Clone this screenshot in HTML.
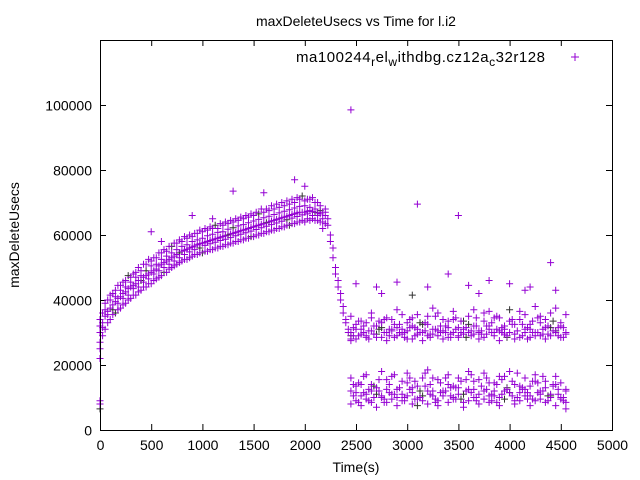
<!DOCTYPE html>
<html><head><meta charset="utf-8"><style>
html,body{margin:0;padding:0;background:#fff;}
svg{display:block;font-family:"Liberation Sans",sans-serif;}
</style></head><body>
<svg id="chart" width="640" height="480" viewBox="0 0 640 480" xmlns="http://www.w3.org/2000/svg">
<rect width="640" height="480" fill="#fff"/>
<text x="356" y="26" font-size="14" text-anchor="middle">maxDeleteUsecs vs Time for l.i2</text>
<text transform="translate(19,235) rotate(-90)" font-size="14" text-anchor="middle">maxDeleteUsecs</text>
<text x="356" y="472" font-size="14" text-anchor="middle">Time(s)</text>
<g id="axes"></g>
<g id="points"></g>
<g>
<text x="296" y="62" font-size="15" textLength="249" lengthAdjust="spacing">ma100244<tspan font-size="12" dy="4">r</tspan><tspan dy="-4">el</tspan><tspan font-size="12" dy="4">w</tspan><tspan dy="-4">ithdbg.cz12a</tspan><tspan font-size="12" dy="4">c</tspan><tspan dy="-4">32r128</tspan></text>
<path d="M571,57h8M575,53v8" stroke="#9400d3" stroke-width="1"/>
</g>
<rect x="100.5" y="40.5" width="512" height="390" fill="none" stroke="#000" stroke-width="1"/>
</svg>
<script>
const xTicks=[0,500,1000,1500,2000,2500,3000,3500,4000,4500,5000];
const yTicks=[0,20000,40000,60000,80000,100000];
const rampTimes=[0,50,100,150,200,250,300,350,400,450,500,550,600,650,700,750,800,850,900,950,1000,1050,1100,1150,1200,1250,1300,1350,1400,1450,1500,1550,1600,1650,1700,1750,1800,1850,1900,1950,2000,2050,2100,2150,2200];
const rampMid=[30000,35000,37500,39500,41000,42500,44000,45000,46000,47500,48500,49500,51000,52000,53000,54000,55000,55600,56300,57000,57500,58000,58500,59000,59500,60000,60500,61000,61500,62000,62500,63000,63500,64000,64500,65000,65500,66000,66500,67000,67000,67500,67000,66500,66000];
const rampHi=[34000,39000,41500,43000,44500,46000,47000,48500,49000,51000,52000,53000,54500,55000,56500,57500,58000,59000,59500,60500,61000,61500,62000,62000,63000,63500,64000,64500,65000,65500,66000,66500,67000,67500,68000,68500,69000,69500,70000,71000,70500,71000,70000,69000,68000];
const rampLo=[27000,31000,34000,36000,37500,39000,40500,41500,43000,44000,45000,46500,47500,48500,50000,51000,52000,52500,53500,54000,54500,55000,55500,56000,56500,57000,57500,58000,58500,59000,59500,60000,60500,61000,61500,62000,62500,63000,63500,64000,64000,64500,64500,64000,63500];
const rampExtra=[32000,37000,40000,41000,43000,44000,45500,47000,47500,49000,50500,51000,52500,53500,54500,55500,56500,57000,58000,58500,59000,59800,60200,60800,61000,61800,62200,62800,63200,63800,64300,64800,65300,65800,66300,66800,67300,67800,68300,68800,69000,68500,68000,67500,67000];
const rampTimes2=[25,75,125,175,225,275,325,375,425,475,525,575,625,675,725,775,825,875,925,975,1025,1075,1125,1175,1225,1275,1325,1375,1425,1475,1525,1575,1625,1675,1725,1775,1825,1875,1925,1975,2025,2075,2125,2175];
const rampB1=[33000,36500,38500,40500,42000,43500,44500,46000,47000,48000,49000,50500,51500,52500,53500,54500,55300,56000,56600,57300,57800,58300,58800,59300,59800,60300,60800,61300,61800,62300,62800,63300,63800,64300,64800,65300,65800,66300,66800,67000,67300,67200,66800,65000];
const rampB2=[36000,40000,42000,44500,45500,47500,48000,50000,51000,52500,53000,54500,55500,56500,57500,58500,59500,60000,60500,61500,62000,62500,63000,63500,64000,64500,65000,65500,66000,66500,67000,68000,68000,69000,69500,70000,70500,71000,71500,72000,71000,71500,70000,67000];
const rampB3=[29000,33000,35500,37000,38500,40000,41500,42500,44000,45000,46000,47000,48500,49500,50500,51500,52500,53000,54000,54500,55000,55500,56000,56500,57000,57500,58000,58500,59000,59500,60000,60500,61000,61500,62000,62500,63000,63500,64000,64500,65000,65000,64500,62000];
const rampB4=[31500,35500,37000,39000,40500,41500,43500,44000,45500,46500,48000,49000,50000,51000,52000,53000,54000,54800,55500,56000,56800,57300,57800,58300,58700,59200,59800,60200,60700,61200,61700,62200,62700,63200,63700,64200,64700,65200,65700,66200,66500,66000,66000,64000];
const dropTimes=[2225,2250,2275,2300,2325,2350,2375,2400,2425,2450];
const dropA=[63000,60000,56000,50000,46000,42000,38000,34000,31000,29000];
const dropB=[65000,58000,53000,48000,44000,40000,36000,33000,30000,28000];
const bandTimes=[2450,2500,2550,2600,2650,2700,2750,2800,2850,2900,2950,3000,3050,3100,3150,3200,3250,3300,3350,3400,3450,3500,3550,3600,3650,3700,3750,3800,3850,3900,3950,4000,4050,4100,4150,4200,4250,4300,4350,4400,4450,4500,4550];
const up1=[30000,31000,29500,33000,30500,28500,31500,30000,34000,29000,31000,30500,32000,29500,30000,35000,31000,29000,30500,33500,30000,28500,31000,32500,29500,30000,36000,31000,29000,30500,32000,30000,29500,34000,31000,28500,30000,33000,31500,29000,30500,32000,30000];
const up2=[35000,28000,33500,29000,36000,32000,28500,34500,31000,37000,29500,33000,28000,35500,32500,29000,37500,30500,34000,28500,36500,31500,29500,35000,32000,28000,33500,36500,30000,34500,29500,37000,32500,28500,35500,31000,38000,29000,34000,36000,30000,33000,35500];
const up3=[27500,32500,31000,28500,34500,29500,33000,27500,30500,31500,35500,28000,34500,31000,27500,32500,29500,36000,28000,31500,34000,29000,33500,30000,37000,30500,28500,32000,34500,27500,31000,33500,28000,36500,30000,32500,29000,35000,28000,31500,37500,28500,29500];
const lo1=[12000,9000,14000,11000,8500,13000,10000,15500,9500,12500,11000,14500,8000,13500,10500,12000,16000,9000,11500,14000,10000,13000,8500,12500,15000,11000,9500,14500,12000,10000,16500,11500,9000,13500,12500,10500,15000,9500,13000,11000,14000,10000,12500];
const lo2=[16000,13500,10500,17000,14000,11000,18000,12500,16500,10000,15000,17500,13000,9500,16000,18500,12000,15500,10500,17000,13500,16000,11000,18000,12500,15500,17500,10500,14500,16500,12000,18000,14000,11500,16000,13500,17000,12000,15000,10500,16500,14500,12000];
const lo3=[8000,11500,7500,9500,12000,7000,10500,8500,11000,7500,9000,10500,11500,7500,9000,8000,10500,7500,12000,8500,9500,11000,7000,9000,10000,8000,12000,8500,10500,7500,9500,11500,8000,9000,10500,7500,9000,11000,8500,10000,7500,9500,8500];
const bandTimes2=[2475,2525,2575,2625,2675,2725,2775,2825,2875,2925,2975,3025,3075,3125,3175,3225,3275,3325,3375,3425,3475,3525,3575,3625,3675,3725,3775,3825,3875,3925,3975,4025,4075,4125,4175,4225,4275,4325,4375,4425,4475,4525];
const up4=[31500,29000,32000,30500,29500,33500,30000,31000,28500,32500,30000,31500,29000,33000,30500,29500,31000,32000,30000,28500,34500,30000,31500,29000,32000,30500,29500,33000,31000,30000,28500,32500,30500,29000,31500,33500,30000,29500,32000,30500,29000,31500];
const up5=[29000,33500,30000,28000,32000,31000,34000,29000,32500,30000,28500,34000,31500,30000,33000,28500,35000,30000,32000,29500,31000,33500,28500,30500,34500,29500,32000,30000,35000,31500,29000,34000,30500,32500,28000,30000,34500,31000,29500,33500,31500,28500];
const lo4=[10500,14500,11500,9000,13500,12000,9500,14000,11000,13000,9000,12500,15000,10000,13500,11000,9500,14500,12000,10500,13000,9500,15500,11500,10000,13500,12500,9000,14000,11000,12500,15000,10000,13000,11500,9500,14500,12000,10500,13500,11000,9000];
const lo5=[14000,8500,16500,12500,10000,15500,8500,11500,17000,13000,10000,16000,9500,12000,17500,14000,8500,11500,16000,13000,9500,15000,12000,17000,9000,13500,16000,11000,8500,15500,13000,10500,17500,12500,9500,15000,11500,16500,9000,14000,12500,10000];
const outlierTimes=[2450,3100,3500,4400,0,0,0,4550,2500,2700,2900,3200,3400,3600,3800,4000,4200,1900,1300,1600,2000,2750,3050,4450,4150,3700,0,0,900,1100,600,500];
const outlierValues=[98500,69500,66000,51500,8000,6500,9000,6500,45000,44000,45500,44000,48000,44500,46000,45000,44000,77000,73500,73000,75000,42000,41500,43000,43000,42000,22000,25000,66000,65000,58000,61000];

const X0=100,X1=612,Y0=430,Y1=40,XMAX=5000,YMAX=120000;
function xs(t){return X0+t/XMAX*(X1-X0);}
function ys(v){return Y0-v/YMAX*(Y0-Y1);}
const NS="http://www.w3.org/2000/svg";
const axes=document.getElementById('axes');
xTicks.forEach(t=>{
  const x=xs(t)+0.5;
  const p=document.createElementNS(NS,'path');
  p.setAttribute('d',`M${x},430v-6M${x},40v6`);
  p.setAttribute('stroke','#000');
  
  
  axes.appendChild(p);
  const tx=document.createElementNS(NS,'text');
  tx.setAttribute('x',x);tx.setAttribute('y',450);
  tx.setAttribute('font-size','14');tx.setAttribute('text-anchor','middle');
  tx.textContent=t;
  
  
  axes.appendChild(tx);
});
yTicks.forEach(v=>{
  const y=ys(v)+0.5;
  const p=document.createElementNS(NS,'path');
  p.setAttribute('d',`M100,${y}h6M612,${y}h-6`);
  p.setAttribute('stroke','#000');
  
  
  axes.appendChild(p);
  const tx=document.createElementNS(NS,'text');
  tx.setAttribute('x',92);tx.setAttribute('y',y+5);
  tx.setAttribute('font-size','14');tx.setAttribute('text-anchor','end');
  tx.textContent=v;
  
  
  axes.appendChild(tx);
});
let d1='',d2='',n=0;
function add(times,vals){
  times.forEach((t,i)=>{
    const v=vals[i]; if(v===undefined)return;
    const x=xs(t),y=ys(v);
    const s=`M${(x-3.5).toFixed(1)},${y.toFixed(1)}h7M${x.toFixed(1)},${(y-3.5).toFixed(1)}v7`;
    if(n%17===8)d2+=s;else d1+=s;
    n++;
  });
}
add(rampTimes,rampMid);add(rampTimes,rampHi);add(rampTimes,rampLo);add(rampTimes,rampExtra);
add(rampTimes2,rampB1);add(rampTimes2,rampB2);add(rampTimes2,rampB3);add(rampTimes2,rampB4);
add(dropTimes,dropA);add(dropTimes,dropB);
add(bandTimes,up1);add(bandTimes,up2);add(bandTimes,up3);
add(bandTimes2,up4);add(bandTimes2,up5);
add(bandTimes,lo1);add(bandTimes,lo2);add(bandTimes,lo3);
add(bandTimes2,lo4);add(bandTimes2,lo5);
add(outlierTimes,outlierValues);
const g=document.getElementById('points');
const pa=document.createElementNS(NS,'path');
pa.setAttribute('d',d2);pa.setAttribute('stroke','#333');pa.setAttribute('stroke-width','1');


g.appendChild(pa);
const pb=document.createElementNS(NS,'path');
pb.setAttribute('d',d1);pb.setAttribute('stroke','#9400d3');pb.setAttribute('stroke-width','1');


g.appendChild(pb);
</script>
</body></html>
